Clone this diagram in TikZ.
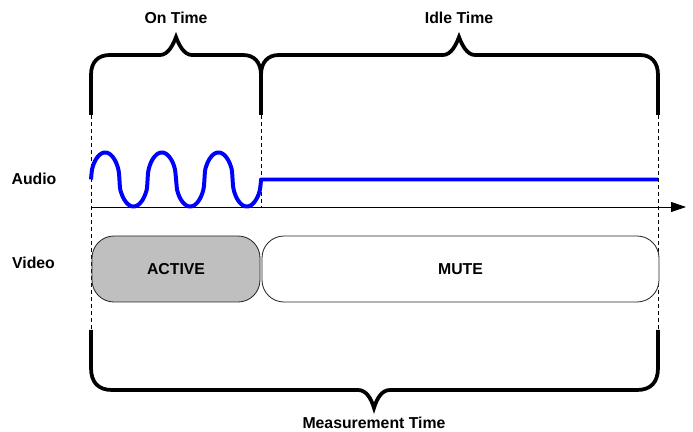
\documentclass[tikz,border=0pt]{standalone}
\usepackage{fontspec}
\setmainfont{Liberation Sans}
\usetikzlibrary{arrows.meta}

\begin{document}
\begin{tikzpicture}[
    x=0.03cm, y=-0.03cm,
    lbl/.style={font=\bfseries\fontsize{13.5}{16}\selectfont, inner sep=0pt},
    pill/.style={draw=black!85, line width=0.7pt, rounded corners=0.66cm, minimum height=1.98cm, inner sep=0pt, font=\bfseries\fontsize{13.5}{16}\selectfont},
    brace/.style={line width=3.2pt},
    guide/.style={dash pattern=on 0.12cm off 0.09cm, line width=0.8pt},
    wave/.style={blue, line width=3.4pt},
    axis/.style={line width=0.8pt, -{Triangle[length=0.45cm, width=0.3cm]}}
]
\useasboundingbox[fill=white] (0,0) rectangle (693,432);

% row labels and times
\node[lbl] (ontime) at (176,17.5) {On Time};
\node[lbl] (idle) at (459,18) {Idle Time};
\node[lbl] (meas) at (374,423) {Measurement Time};
\node[lbl] (audio) at (34,179) {Audio};
\node[lbl] (video) at (33.5,263) {Video};

% time marks
\coordinate (t0) at (91,115);
\coordinate (t1) at (261,115);
\coordinate (t2) at (658,115);
\draw[guide] (t0) -- (91,330);
\draw[guide] (t1) -- (261,207);
\draw[guide] (t2) -- (658,330);

% video states
\node[pill, fill=black!25, minimum width=5.04cm] (active) at (176,269) {ACTIVE};
\node[pill, fill=white, minimum width=11.91cm] (mute) at (460.5,269) {MUTE};

% audio signal
\coordinate (origin) at (91,207);
\coordinate (tend) at (686,207);
\draw[axis] (origin) -- (tend);
\draw[wave, line join=round] plot[domain=0:170, samples=171, smooth]
  ({91+\x},{179.5-27*sign(sin(6.3526*\x))*exp(0.45*ln(abs(sin(6.3526*\x))+0.0001))})
  -- (261,179.5) -- (658,179.5);

% braces
\draw[brace] (t0) -- (91,75) .. controls (91,62) and (98,55) .. (110,55) -- (160,55)
  .. controls (168,55) and (173,45) .. (176,37) .. controls (179,45) and (184,55) .. (192,55)
  -- (243,55) .. controls (254,55) and (261,62) .. (261,75) -- (t1);
\draw[brace] (261,75) .. controls (261,62) and (268,55) .. (279,55) -- (443,55)
  .. controls (451,55) and (456,45) .. (459,37) .. controls (462,45) and (467,55) .. (475,55)
  -- (640,55) .. controls (651,55) and (658,62) .. (658,75) -- (t2);
\draw[brace] (91,330) -- (91,368) .. controls (91,382) and (98,390) .. (112,390) -- (358,390)
  .. controls (366,390) and (371,398) .. (374,408) .. controls (377,398) and (382,390) .. (390,390)
  -- (637,390) .. controls (651,390) and (658,382) .. (658,368) -- (658,330);
\end{tikzpicture}
\end{document}
